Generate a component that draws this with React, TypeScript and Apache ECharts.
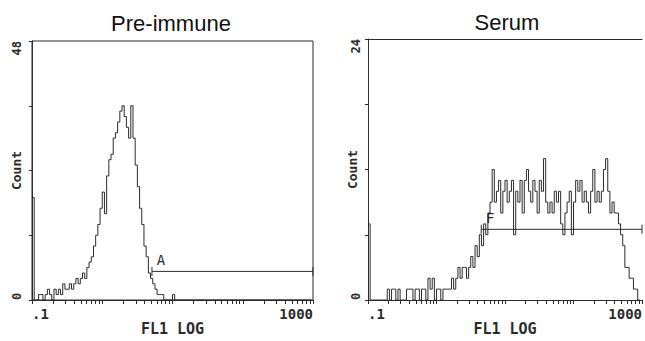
import React, { useEffect, useRef } from "react";
import * as echarts from "echarts";

// Histogram channels (log FL1 scale, 4 decades from 0.1 to 1000)
const CHANNELS = 128;
const X_MIN = 0.1;
const X_DECADES = 4;

// Panel titles
const panelTitles = ["Pre-immune", "Serum"];

// Counts per channel
const preImmuneCounts = [
  19, 0, 0, 1, 1, 0, 1, 2, 1, 0, 2, 1, 2, 1, 3, 2,
  2, 3, 2, 3, 4, 3, 4, 5, 4, 6, 7, 8, 10, 12, 14, 17,
  20, 16, 23, 26, 27, 30, 31, 33, 35, 36, 34, 32, 30, 36, 30, 25,
  21, 17, 14, 10, 8, 5, 4, 3, 2, 1, 1, 1, 0, 0, 0, 0,
  1, 0, 0, 0, 0, 0, 0, 0, 0, 0, 0, 0, 0, 0, 0, 0,
  0, 0, 0, 0, 0, 0, 0, 0, 0, 0, 0, 0, 0, 0, 0, 0,
  0, 0, 0, 0, 0, 0, 0, 0, 0, 0, 0, 0, 0, 0, 0, 0,
  0, 0, 0, 0, 0, 0, 0, 0, 0, 0, 0, 0, 0, 0, 0, 0,
];

const serumCounts = [
  7, 0, 0, 0, 0, 0, 0, 0, 0, 1, 0, 1, 1, 0, 1, 0,
  0, 0, 1, 1, 1, 0, 1, 1, 0, 1, 1, 0, 2, 1, 2, 0,
  1, 1, 0, 1, 1, 1, 1, 2, 1, 2, 3, 2, 3, 3, 2, 3,
  4, 3, 5, 4, 6, 5, 7, 6, 8, 9, 12, 9, 10, 11, 8, 10,
  11, 9, 10, 11, 6, 10, 9, 11, 8, 11, 12, 10, 9, 11, 10, 8,
  11, 10, 13, 9, 8, 9, 8, 10, 9, 10, 7, 6, 8, 9, 10, 6,
  9, 11, 10, 11, 9, 10, 9, 8, 10, 12, 9, 10, 9, 10, 12, 13,
  10, 8, 9, 8, 8, 7, 6, 5, 3, 3, 2, 2, 1, 1, 0, 0,
];

// Axis settings
const yMax = [48, 24];
const yInterval = [12, 6];
const yTickLabels = [["0", "48"], ["0", "24"]];
const xTickLabels = [".1", "1000"];
const xTickDecades = [0.1, 1, 10, 100];
const xTickMultiples = [1, 2, 3, 4, 5, 6, 7, 8, 9];
const xAxisName = "FL1 LOG";
const yAxisName = "Count";

// Gates (FL1 start, FL1 end, count level)
const gateNames = ["A", "F"];
const gateStarts = [5.1, 4.5];
const gateEnds = [1000, 1000];
const gateLevels = [5.3, 6.5];

const ink = "#2b2b2b";
const mono = "DejaVu Sans Mono";

const chanOf = (v: number) =>
  (CHANNELS * (Math.log10(v) - Math.log10(X_MIN))) / X_DECADES;

const xTickValues = [
  ...xTickDecades.flatMap((d) => xTickMultiples.map((m) => d * m)),
  X_MIN * Math.pow(10, X_DECADES),
];

const grids = [
  { left: 32, top: 41, width: 281, height: 262 },
  { left: 368, top: 39, width: 276, height: 262 },
];

export default function App() {
  const ref = useRef<HTMLDivElement>(null);

  useEffect(() => {
    if (!ref.current) return;
    const chart = echarts.init(ref.current, null, { renderer: "svg" });

    const labelFont = {
      fontFamily: mono,
      fontWeight: "bold" as const,
      color: ink,
    };

    const xAxes: any[] = [0, 1].map((g) => ({
      type: "value",
      gridIndex: g,
      min: 0,
      max: CHANNELS,
      name: xAxisName,
      nameLocation: "middle",
      nameGap: 21,
      nameMoveOverlap: false,
      nameTextStyle: { ...labelFont, fontSize: 15 },
      axisLine: { show: true, lineStyle: { color: ink, width: 1 } },
      axisTick: {
        show: true,
        inside: false,
        length: 4,
        customValues: xTickValues.map(chanOf),
        lineStyle: { color: ink, width: 1 },
      },
      axisLabel: {
        show: true,
        customValues: [0, CHANNELS],
        formatter: (v: number) => (v === 0 ? xTickLabels[0] : xTickLabels[1]),
        margin: 7,
        alignMinLabel: "left",
        alignMaxLabel: "right",
        ...labelFont,
        fontSize: 14,
      },
      splitLine: { show: false },
    }));
    // top border of right panel
    xAxes.push({
      type: "value",
      gridIndex: 1,
      position: "top",
      min: 0,
      max: CHANNELS,
      axisLine: { show: true, lineStyle: { color: ink, width: 1 } },
      axisTick: { show: false },
      axisLabel: { show: false },
      splitLine: { show: false },
    });

    const yAxes: any[] = [0, 1].map((g) => ({
      type: "value",
      gridIndex: g,
      min: 0,
      max: yMax[g],
      interval: yInterval[g],
      name: yAxisName,
      nameLocation: "middle",
      nameRotate: 90,
      nameGap: 9,
      nameMoveOverlap: false,
      nameTextStyle: { ...labelFont, fontSize: 13 },
      axisLine: { show: true, lineStyle: { color: ink, width: 1 } },
      axisTick: { show: true, inside: false, length: 3, lineStyle: { color: ink } },
      axisLabel: {
        show: true,
        rotate: 90,
        customValues: [0, yMax[g]],
        formatter: (v: number) => (v === 0 ? yTickLabels[g][0] : yTickLabels[g][1]),
        margin: g === 0 ? 9 : 6,
        alignMinLabel: "left",
        alignMaxLabel: "right",
        ...labelFont,
        fontSize: 12,
      },
      splitLine: { show: false },
    }));

    const counts = [preImmuneCounts, serumCounts];
    const series: any[] = [];
    [0, 1].forEach((g) => {
      series.push({
        type: "line",
        xAxisIndex: g,
        yAxisIndex: g,
        step: "end",
        showSymbol: false,
        symbol: "none",
        lineStyle: { color: ink, width: 1 },
        data: counts[g].map((c, i) => [i, c]),
      });
      series.push({
        type: "line",
        xAxisIndex: g,
        yAxisIndex: g,
        clip: false,
        symbol: "rect",
        symbolSize: [1, 9],
        showSymbol: true,
        itemStyle: { color: ink },
        lineStyle: { color: ink, width: 1 },
        data: [
          {
            value: [chanOf(gateStarts[g]), gateLevels[g]],
            label: {
              show: true,
              formatter: gateNames[g],
              position: "top",
              distance: 0,
              offset: [9, 0],
              fontFamily: mono,
              fontSize: 14,
              color: ink,
            },
          },
          [chanOf(gateEnds[g]), gateLevels[g]],
        ],
      });
    });

    const option: any = {
      animation: false,
      backgroundColor: "#ffffff",
      grid: grids.map((gr, i) => ({
        ...gr,
        containLabel: false,
        show: i === 0,
        borderColor: ink,
        borderWidth: 1,
        backgroundColor: "transparent",
      })),
      xAxis: xAxes,
      yAxis: yAxes,
      series,
      graphic: [
        {
          type: "text",
          x: 171,
          y: 23,
          style: {
            text: panelTitles[0],
            fontFamily: "Liberation Sans",
            fontSize: 22,
            fill: "#111",
            align: "center",
            verticalAlign: "middle",
          },
        },
        {
          type: "text",
          x: 507,
          y: 22,
          style: {
            text: panelTitles[1],
            fontFamily: "Liberation Sans",
            fontSize: 22,
            fill: "#111",
            align: "center",
            verticalAlign: "middle",
          },
        },
      ],
    };

    chart.setOption(option);
    return () => chart.dispose();
  }, []);

  return (
    <div
      ref={ref}
      style={{ position: "fixed", left: 0, top: 0, width: 645, height: 341, background: "#fff" }}
    />
  );
}
